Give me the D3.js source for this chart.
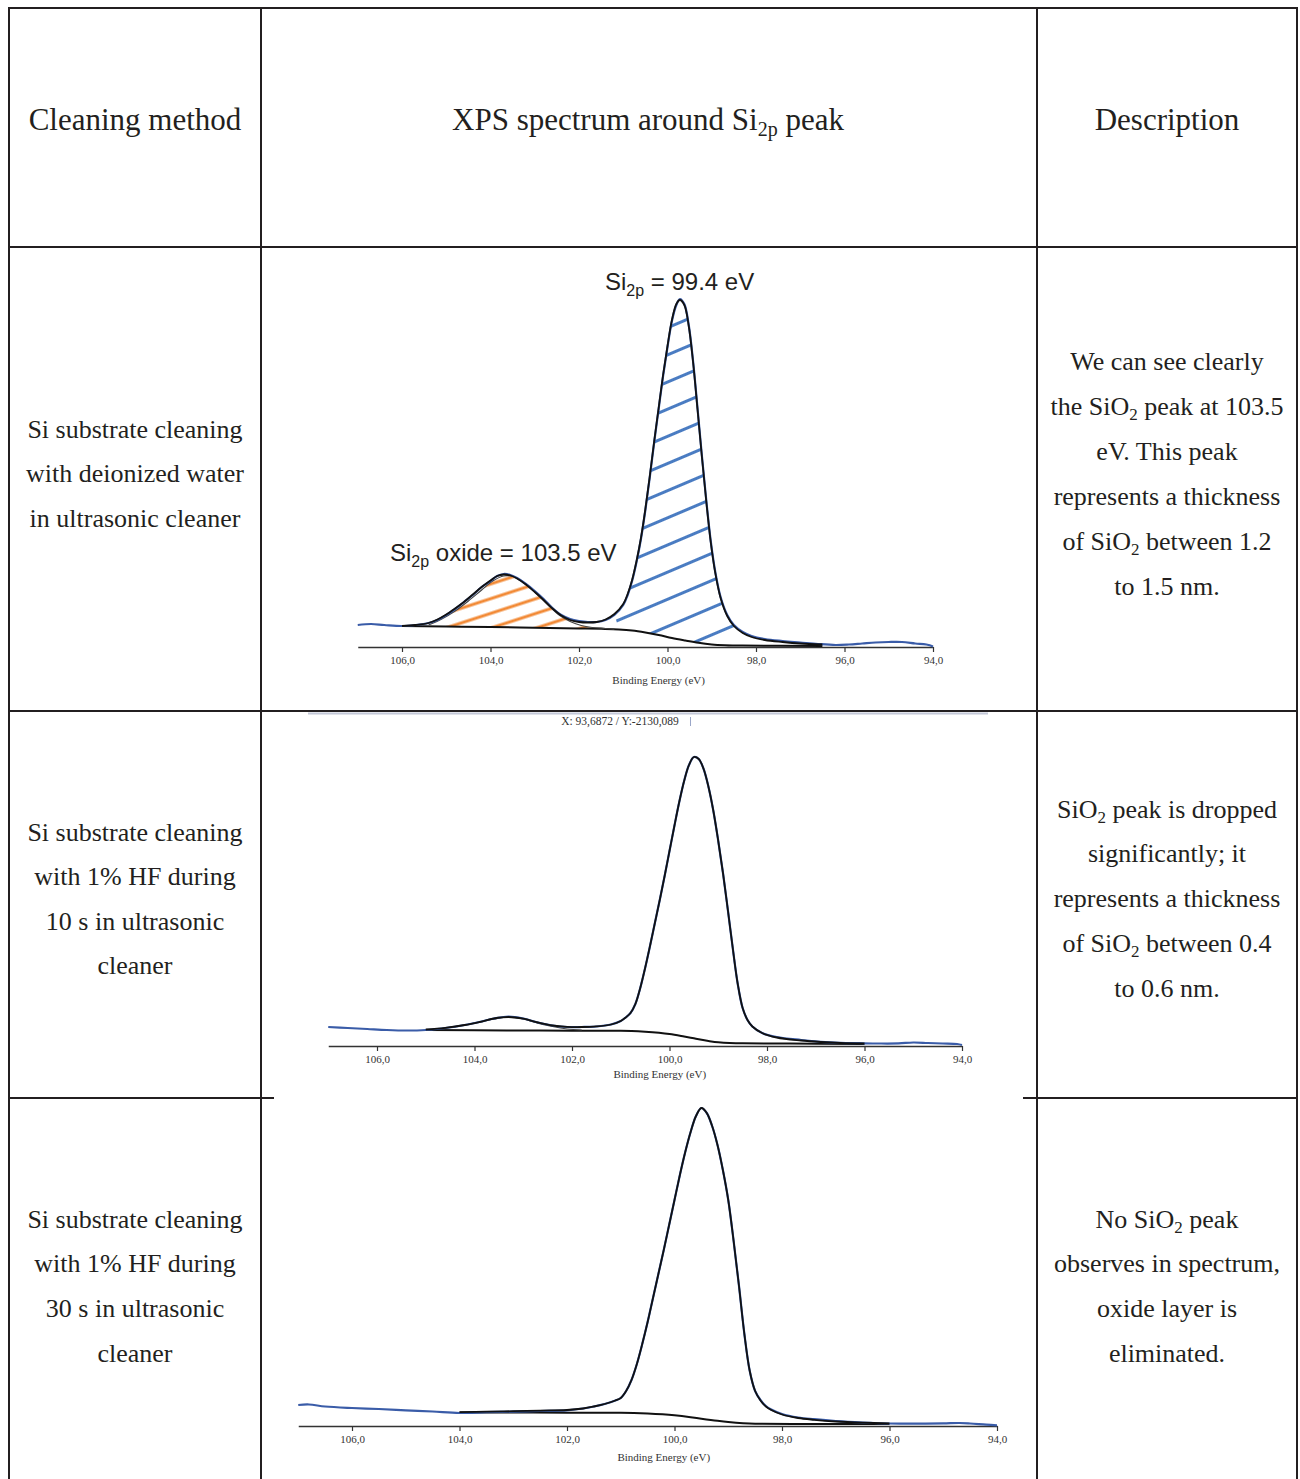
<!DOCTYPE html>
<html><head><meta charset="utf-8">
<script src="https://cdn.jsdelivr.net/npm/d3@7/dist/d3.min.js"></script>
<style>body{margin:0;background:#fff}svg{display:block}</style>
</head><body>
<svg id="c" width="1300" height="1479"></svg>
<script>
// ---------------- DATA ----------------
const headers = ["Cleaning method", "XPS spectrum around Si_{2p} peak", "Description"];
const methodText = [
  ["Si substrate cleaning", "with deionized water", "in ultrasonic cleaner"],
  ["Si substrate cleaning", "with 1% HF during", "10 s in ultrasonic", "cleaner"],
  ["Si substrate cleaning", "with 1% HF during", "30 s in ultrasonic", "cleaner"]
];
const descText = [
  ["We can see clearly", "the SiO_{2} peak at 103.5", "eV. This peak", "represents a thickness", "of SiO_{2} between 1.2", "to 1.5 nm."],
  ["SiO_{2} peak is dropped", "significantly; it", "represents a thickness", "of SiO_{2} between 0.4", "to 0.6 nm."],
  ["No SiO_{2} peak", "observes in spectrum,", "oxide layer is", "eliminated."]
];
const tickValues = [106, 104, 102, 100, 98, 96, 94];
const tickLabels = ["106,0", "104,0", "102,0", "100,0", "98,0", "96,0", "94,0"];
const xDomain = [107, 94];
const axisTitle = "Binding Energy (eV)";
const peakLabels1 = ["Si_{2p} = 99.4 eV", "Si_{2p} oxide = 103.5 eV"];
const readout2 = "X: 93,6872 / Y:-2130,089";

// Spectrum 1 (deionized water) – [binding energy eV, intensity a.u.]
const raw1 = [[107.0,22],[106.7,23],[106.4,22],[106.0,21],[105.7,22],[105.4,24],[105.2,27],[105.0,32],[104.8,38],[104.6,45],[104.4,52],[104.2,60],[104.0,66],[103.85,71],[103.7,73],[103.55,72],[103.4,69],[103.2,63],[103.0,56],[102.8,48],[102.6,39],[102.4,32],[102.2,28],[102.0,26],[101.8,25],[101.6,25],[101.4,27],[101.2,32],[101.0,42],[100.9,52],[100.8,66],[100.7,85],[100.6,108],[100.5,137],[100.4,170],[100.3,205],[100.2,238],[100.1,271],[100.0,300],[99.9,326],[99.8,342],[99.72,348],[99.62,343],[99.52,322],[99.42,285],[99.32,238],[99.22,190],[99.12,145],[99.02,105],[98.92,75],[98.8,50],[98.65,32],[98.5,22],[98.3,15],[98.1,11],[97.8,8],[97.4,6],[97.0,4.5],[96.6,3],[96.2,2],[95.9,2.5],[95.6,3.5],[95.3,4.5],[95.0,5],[94.7,5],[94.4,3.5],[94.15,2.5],[94.0,0.5]];
const env1 = [[106.0,21],[105.7,22],[105.4,24],[105.2,27.5],[105.0,32.5],[104.8,38.5],[104.6,45],[104.4,52.5],[104.2,60],[104.0,66.5],[103.85,71],[103.7,72.5],[103.55,71.5],[103.4,68.5],[103.2,62.5],[103.0,55],[102.8,47],[102.6,38.5],[102.4,31.5],[102.2,27],[102.0,25],[101.8,24.5],[101.6,25],[101.4,27.5],[101.2,33],[101.0,43],[100.9,53],[100.8,67],[100.7,86],[100.6,109],[100.5,138],[100.4,171],[100.3,206],[100.2,239],[100.1,272],[100.0,301],[99.9,327],[99.8,343],[99.72,347],[99.62,342],[99.52,321],[99.42,284],[99.32,237],[99.22,189],[99.12,144],[99.02,104],[98.92,74],[98.8,49],[98.65,31],[98.5,21],[98.3,14],[98.1,10],[97.8,7],[97.4,5],[97.0,3.5],[96.5,2.5]];
const bg1 = [[106.0,21],[105.0,20.5],[104.0,20],[103.0,19.3],[102.0,18.6],[101.5,18.2],[101.1,17.6],[100.8,16.5],[100.5,14.5],[100.2,12],[99.9,9],[99.6,6.5],[99.3,4.2],[99.0,2.6],[98.7,1.8],[98.3,1.4],[97.5,1.2],[96.5,1.0]];
const oxide1 = [[105.4,22],[105.1,28],[104.8,36],[104.5,46],[104.2,57],[103.95,66],[103.7,71],[103.45,70],[103.2,63],[102.95,53],[102.7,42],[102.45,32],[102.2,25.5],[101.95,21.5],[101.7,19.5],[101.4,18.5],[101.2,17.8]];

// Spectrum 2 (1% HF, 10 s)
const raw2 = [[107.0,19],[106.6,18],[106.2,17],[105.8,16],[105.4,15.5],[105.0,16],[104.6,18],[104.2,21],[103.9,24],[103.6,27.5],[103.3,29.5],[103.0,27.5],[102.7,23.5],[102.4,20.5],[102.1,19],[101.8,19],[101.5,19.5],[101.2,21.5],[101.0,25],[100.9,28.5],[100.8,33],[100.7,42],[100.6,58],[100.5,78],[100.4,100],[100.3,123],[100.2,146],[100.1,170],[100.0,195],[99.9,220],[99.8,244],[99.7,265],[99.6,281],[99.5,289],[99.4,287],[99.3,277],[99.2,259],[99.1,235],[99.0,205],[98.9,172],[98.8,135],[98.7,97],[98.6,62],[98.5,38],[98.4,26],[98.3,19.5],[98.1,13],[97.8,9],[97.3,6],[96.9,4.2],[96.5,3.2],[96.1,2.8],[95.7,2.5],[95.3,2.6],[95.0,3.5],[94.7,3],[94.4,2.5],[94.1,2],[94.0,1]];
const env2 = [[105.0,16.5],[104.6,18.2],[104.2,21],[103.9,24],[103.6,27.5],[103.3,29],[103.0,27.3],[102.7,23.5],[102.4,20.5],[102.1,19.2],[101.8,19],[101.5,19.6],[101.2,21.5],[101.0,25],[100.9,28.5],[100.8,33],[100.7,42],[100.6,58],[100.5,78],[100.4,100],[100.3,123],[100.2,146],[100.1,170],[100.0,195],[99.9,220],[99.8,244],[99.7,265],[99.6,281],[99.5,289],[99.4,287],[99.3,277],[99.2,259],[99.1,235],[99.0,205],[98.9,172],[98.8,135],[98.7,97],[98.6,62],[98.5,38],[98.4,26],[98.3,19.5],[98.1,13],[97.8,8.5],[97.3,5.5],[96.9,4],[96.5,3],[96.0,2.5]];
const bg2 = [[105.0,16],[104.0,15.7],[103.0,15.5],[102.0,15.3],[101.0,15.3],[100.5,14.3],[100.0,12],[99.7,9.5],[99.5,7.7],[99.2,5],[99.0,3.7],[98.5,2.7],[97.0,2.3],[96.0,2.0]];
const oxide2 = [[105.0,16.2],[104.6,18],[104.2,21],[103.9,24],[103.6,27],[103.3,28.8],[103.0,27],[102.7,23],[102.4,19.5],[102.1,17],[101.8,16]];

// Spectrum 3 (1% HF, 30 s)
const raw3 = [[107.0,21],[106.8,21.5],[106.5,19.5],[106.0,18],[105.5,17],[105.0,15.7],[104.5,14.5],[104.0,13],[103.5,13.8],[103.0,14.3],[102.5,15],[102.0,15.7],[101.7,17.5],[101.5,19.5],[101.3,22],[101.1,25.5],[101.0,28],[100.9,35],[100.8,46],[100.7,62],[100.6,82],[100.5,104],[100.4,128],[100.3,152],[100.2,176],[100.1,201],[100.0,226],[99.9,251],[99.8,274],[99.7,294],[99.6,310],[99.5,318],[99.4,313],[99.3,300],[99.2,281],[99.1,256],[99.0,226],[98.9,185],[98.8,140],[98.7,92],[98.6,55],[98.5,35],[98.4,26],[98.3,20],[98.2,16.5],[98.0,12],[97.7,8.5],[97.4,6.8],[97.0,5],[96.5,3.5],[96.0,2.5],[95.5,2.3],[95.0,2.6],[94.7,3],[94.5,2.5],[94.2,1.3],[94.0,0.7]];
const env3 = [[104.0,13.8],[103.5,14.3],[103.0,14.8],[102.5,15.4],[102.0,16],[101.7,17.5],[101.5,19.5],[101.3,22],[101.1,25.5],[101.0,28],[100.9,35],[100.8,46],[100.7,62],[100.6,82],[100.5,104],[100.4,128],[100.3,152],[100.2,176],[100.1,201],[100.0,226],[99.9,251],[99.8,274],[99.7,294],[99.6,310],[99.5,318],[99.4,313],[99.3,300],[99.2,281],[99.1,256],[99.0,226],[98.9,185],[98.8,140],[98.7,92],[98.6,55],[98.5,35],[98.4,25.5],[98.3,19.5],[98.2,16],[98.0,11.5],[97.7,8],[97.4,6.2],[97.0,4.5],[96.5,3.3],[96.0,2.6]];
const bg3 = [[104.0,13.5],[103.0,13.5],[102.0,13.3],[101.0,13.2],[100.5,12.5],[100.0,10.7],[99.7,8.8],[99.5,7.3],[99.2,5.2],[99.0,4],[98.5,2.3],[97.5,2.0],[96.0,2.0]];

// ---------------- LAYOUT ----------------
const SERIF = "'Liberation Serif','Times New Roman',serif";
const SANS = "'Liberation Sans',Arial,sans-serif";
const INK = "#231f20";
const RAWC = "#3a5ca8";
const svg = d3.select("#c");

// table grid
const grid = [
  [9, 8, 1297, 8], [9, 247, 1297, 247], [9, 711, 1297, 711],
  [9, 1098, 274, 1098], [1023, 1098, 1297, 1098],
  [9, 7, 9, 1479], [261, 8, 261, 1479], [1037, 8, 1037, 1479], [1297, 7, 1297, 1479]
];
svg.append("g").selectAll("line").data(grid).join("line")
  .attr("x1", d => d[0]).attr("y1", d => d[1]).attr("x2", d => d[2]).attr("y2", d => d[3])
  .attr("stroke", INK).attr("stroke-width", 2);

// rich text helper: "_{...}" = subscript
function rich(sel, str, x, y, size, family, anchor, subSize, subDy) {
  const t = sel.append("text").attr("x", x).attr("y", y).attr("font-size", size)
    .attr("font-family", family).attr("fill", INK).attr("text-anchor", anchor || "middle");
  const parts = str.split(/(_\{[^}]*\})/).filter(s => s.length);
  let shifted = false;
  parts.forEach(p => {
    const m = p.match(/^_\{([^}]*)\}$/);
    if (m) {
      t.append("tspan").attr("font-size", subSize).attr("dy", subDy).text(m[1]);
      shifted = true;
    } else {
      const ts = t.append("tspan").text(p);
      if (shifted) { ts.attr("dy", -subDy); shifted = false; }
    }
  });
  return t;
}

const colX = [135, 648, 1167];
headers.forEach((h, i) => rich(svg, h, colX[i], 130, 31, SERIF, "middle", 20, 6));

const methodY = [[429, 44.5], [832, 44.6], [1219, 44.7]];
const descY = [[361, 45], [809, 44.8], [1219, 44.7]];
methodText.forEach((lines, r) => lines.forEach((s, i) =>
  rich(svg, s, colX[0], methodY[r][0] + i * methodY[r][1] + 8.5, 26, SERIF, "middle", 17, 5)));
descText.forEach((lines, r) => lines.forEach((s, i) =>
  rich(svg, s, colX[2], descY[r][0] + i * descY[r][1] + 8.5, 26, SERIF, "middle", 17, 5)));

// chart 2 image frame top edge + readout
svg.append("line").attr("x1", 308).attr("x2", 988).attr("y1", 713.5).attr("y2", 713.5)
  .attr("stroke", "#c3c8d8").attr("stroke-width", 2);
svg.append("text").attr("x", 620).attr("y", 725).attr("text-anchor", "middle")
  .attr("font-family", SERIF).attr("font-size", 11.5).attr("fill", "#333").text(readout2);
svg.append("line").attr("x1", 690.5).attr("x2", 690.5).attr("y1", 717).attr("y2", 726)
  .attr("stroke", "#9aa6c8").attr("stroke-width", 1);

// hatch patterns
const defs = svg.append("defs");
function hatch(id, color, gap, angle, w) {
  const p = defs.append("pattern").attr("id", id).attr("patternUnits", "userSpaceOnUse")
    .attr("width", 40).attr("height", gap).attr("patternTransform", `rotate(${angle})`);
  p.append("line").attr("x1", 0).attr("x2", 40).attr("y1", gap / 2).attr("y2", gap / 2)
    .attr("stroke", color).attr("stroke-width", w);
}
hatch("hb", "#4a7cc2", 25, -23, 3);
hatch("ho", "#f28a36", 14, -18, 3.2);

const charts = [
  {x0: 357.75, x1: 933, axisY: 647, peakY: 299, yMax: 348, titleY: 684, titleEV: 100.2,
   raw: raw1, env: env1, bg: bg1, comp: oxide1,
   hatches: [{top: oxide1, lo: 101.2, hi: 105.4, fill: "url(#ho)"}, {top: env1, lo: 98.3, hi: 101.2, fill: "url(#hb)"}]},
  {x0: 328.25, x1: 962, axisY: 1046, peakY: 757, yMax: 289, titleY: 1078, titleEV: 100.2,
   raw: raw2, env: env2, bg: bg2, comp: oxide2, hatches: []},
  {x0: 298.25, x1: 997, axisY: 1426, peakY: 1108, yMax: 318, titleY: 1461, titleEV: 100.2,
   raw: raw3, env: env3, bg: bg3, comp: null, hatches: []}
];

charts.forEach(c => {
  const x = d3.scaleLinear().domain(xDomain).range([c.x0, c.x1]);
  const y = d3.scaleLinear().domain([0, c.yMax]).range([c.axisY, c.peakY]);
  const g = svg.append("g");
  const curve = d3.line().x(p => x(p[0])).y(p => y(p[1])).curve(d3.curveCatmullRom.alpha(0.5));
  const smooth = d3.line().x(p => x(p[0])).y(p => y(p[1])).curve(d3.curveMonotoneX);
  const lin = d3.line().x(p => x(p[0])).y(p => y(p[1]));

  c.hatches.forEach(h => {
    const top = h.top.filter(p => p[0] <= h.hi + 1e-9 && p[0] >= h.lo - 1e-9);
    const bot = c.bg.filter(p => p[0] < h.hi && p[0] > h.lo).slice().reverse();
    const d = curve(top) + (bot.length ? lin(bot).replace(/^M/, "L") : "") + "Z";
    g.append("path").attr("d", d).attr("fill", h.fill).attr("stroke", "none");
  });

  // axis
  const ax = d3.axisBottom(x).tickValues(tickValues).tickFormat((v, i) => tickLabels[i])
    .tickSize(5).tickSizeOuter(0).tickPadding(4);
  const ag = g.append("g").attr("transform", `translate(0,${c.axisY})`).call(ax);
  ag.select(".domain").attr("stroke", "#333").attr("stroke-width", 1.3);
  ag.selectAll(".tick line").attr("stroke", "#333").attr("stroke-width", 1.2);
  ag.selectAll(".tick text").attr("font-family", SERIF).attr("font-size", 11).attr("fill", "#333");
  g.append("text").attr("x", x(c.titleEV)).attr("y", c.titleY).attr("text-anchor", "middle")
    .attr("font-family", SERIF).attr("font-size", 11).attr("fill", "#333").text(axisTitle);

  // lines
  g.append("path").attr("d", smooth(c.bg)).attr("fill", "none").attr("stroke", "#111").attr("stroke-width", 2);
  if (c.comp) g.append("path").attr("d", curve(c.comp)).attr("fill", "none").attr("stroke", "#444").attr("stroke-width", 1.2);
  g.append("path").attr("d", curve(c.raw)).attr("fill", "none").attr("stroke", RAWC).attr("stroke-width", 2.2).attr("stroke-linejoin", "round");
  g.append("path").attr("d", curve(c.env)).attr("fill", "none").attr("stroke", "#111").attr("stroke-width", 1.8).attr("stroke-linejoin", "round");
});

// peak annotations chart 1
rich(svg, peakLabels1[0], 605, 290, 24, SANS, "start", 16, 6);
rich(svg, peakLabels1[1], 390, 561, 24, SANS, "start", 16, 6);
</script>
</body></html>
